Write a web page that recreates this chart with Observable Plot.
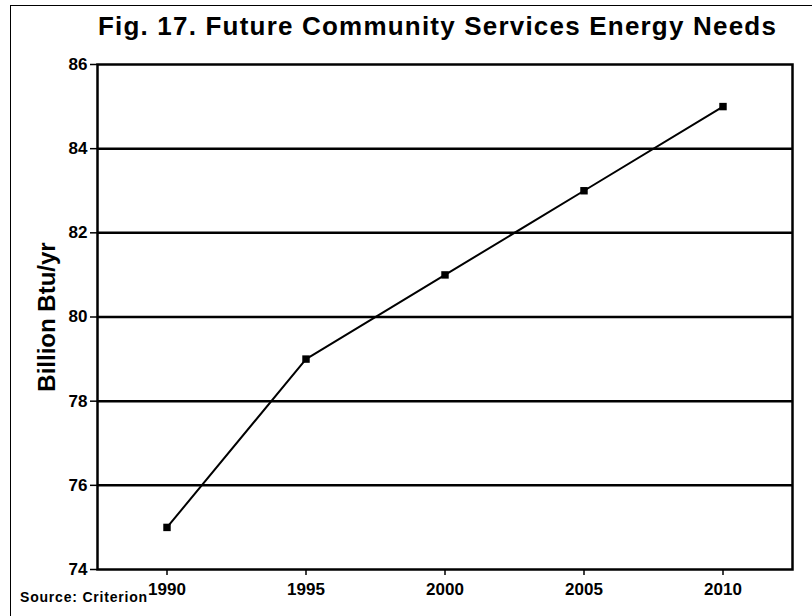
<!DOCTYPE html>
<html>
<head>
<meta charset="utf-8">
<script src="https://cdn.jsdelivr.net/npm/d3@7"></script>
<script src="https://cdn.jsdelivr.net/npm/@observablehq/plot@0.6"></script>
<style>
  html, body { margin: 0; padding: 0; background: #fff; }
  #wrap { position: relative; width: 812px; height: 616px; overflow: hidden; font-family: "Liberation Sans", Arial, sans-serif; }
  #title { position: absolute; left: 80px; width: 715px; top: 11px; text-align: center; font-weight: bold; font-size: 26px; letter-spacing: 1.2px; color: #000; white-space: nowrap; }
  #source { position: absolute; left: 20px; top: 589px; font-weight: bold; font-size: 14px; letter-spacing: 0.8px; color: #000; }
  #border { position: absolute; left: 10px; top: 5px; width: 900px; height: 700px; border-left: 1.5px solid #000; border-top: 1.5px solid #000; }
  #chart { position: absolute; left: 0; top: 0; }
</style>
</head>
<body>
<div id="wrap">
  <div id="border"></div>
  <div id="chart"></div>
  <div id="title">Fig. 17. Future Community Services Energy Needs</div>
  <div id="source">Source: Criterion</div>
</div>
<script>
const years = [1990, 1995, 2000, 2005, 2010];
const values = [75, 79, 81, 83, 85];
const yTicks = [74, 76, 78, 80, 82, 84, 86];
const gridValues = [76, 78, 80, 82, 84];
const yLabel = "Billion Btu/yr";

const data = years.map((y, i) => ({year: y, value: values[i]}));

const chart = Plot.plot({
  width: 812,
  height: 616,
  marginLeft: 97,
  marginRight: 20,
  marginTop: 64,
  marginBottom: 47,
  style: {fontFamily: "Liberation Sans, Arial, sans-serif", fontWeight: "bold", fontSize: "17px", color: "#000", background: "transparent", overflow: "visible"},
  x: {domain: [1987.5, 2012.5], label: null},
  y: {domain: [74, 86], label: null},
  marks: [
    Plot.ruleY(gridValues, {stroke: "#000", strokeWidth: 2.5}),
    Plot.frame({stroke: "#000", strokeWidth: 2.5}),
    Plot.axisX({ticks: years, tickFormat: d => String(d), tickSize: 6, tickPadding: 7, fontSize: 17, fontWeight: "bold", strokeWidth: 1.5, label: null}),
    Plot.axisY({ticks: yTicks, tickSize: 7, tickPadding: 3, fontSize: 17, fontWeight: "bold", strokeWidth: 1.5, label: null}),
    Plot.line(data, {x: "year", y: "value", stroke: "#000", strokeWidth: 2}),
    Plot.dot(data, {x: "year", y: "value", symbol: "square", r: 4.2, fill: "#000", stroke: "none"}),
    Plot.text([yLabel], {frameAnchor: "left", dx: -50, rotate: -90, textAnchor: "middle", text: d => d, fontSize: 24, fontWeight: "bold", fill: "#000", style: "letter-spacing: 1.2px"})
  ]
});
document.getElementById("chart").appendChild(chart);
</script>
</body>
</html>
